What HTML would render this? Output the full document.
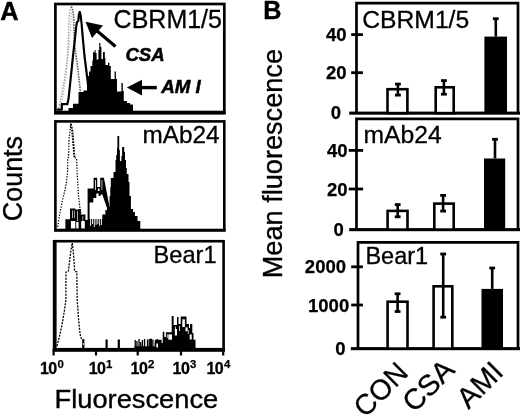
<!DOCTYPE html>
<html><head><meta charset="utf-8"><title>Figure</title>
<style>html,body{margin:0;padding:0;background:#fff}svg{display:block}</style></head>
<body><svg width="520" height="416" viewBox="0 0 520 416">
<rect width="520" height="416" fill="#fff"/>
<g font-family="'Liberation Sans', Arial, sans-serif" fill="#000">
<text x="0.3" y="19.6" font-size="25.4" font-weight="bold" stroke="#000" stroke-width="0.4">A</text>
<text transform="translate(21.7,221.2) rotate(-90)" font-size="26.9" stroke="#000" stroke-width="0.35">Counts</text>
<text x="54.6" y="407.6" font-size="26.2" textLength="163.6" lengthAdjust="spacingAndGlyphs" stroke="#000" stroke-width="0.35">Fluorescence</text>
<path d="M58.8,108.0L60.0,102.0L61.5,96.0L63.0,88.0L65.0,76.0L67.0,61.0L68.0,45.0L68.8,28.0L69.5,12.0L71.3,6.5" fill="none" stroke="#999" stroke-width="1.3" stroke-dasharray="1.5,1.3"/>
<path d="M71.3,6.5L72.5,9.0L73.5,15.0L74.0,30.0L74.6,45.0L76.0,56.0L77.0,62.0L78.5,75.0L80.0,88.0L81.0,100.0" fill="none" stroke="#666" stroke-width="1.7" stroke-dasharray="1.6,1.0"/>
<path d="M61.0,106.0L63.0,96.0L65.0,84.0L67.0,68.0L69.0,48.0L70.5,28.0L71.5,12.0" fill="none" stroke="#aaa" stroke-width="1.0" stroke-dasharray="1.2,1.6"/>
<path d="M57.0,109.6L61.8,109.6L61.8,104.2L67.3,104.2L68.5,99.0L70.0,85.0L72.0,66.0L73.0,56.0L75.0,38.0L76.3,26.0L77.0,22.0L78.3,21.0L79.0,14.0L79.8,12.0L80.6,15.0L81.6,24.0L83.0,40.0L84.5,56.0L86.0,68.0L87.5,80.0L88.2,86.0" fill="none" stroke="#000" stroke-width="2.2" stroke-linejoin="round"/>
<path d="M68.5,112V108.0H73.0V103.7H78.5V92.0H83.5V90.5H87.0V76.0H89.0V71.4H90.5V66.0H92.3V60.6H93.0V52.3H94.6V50.0H95.6V53.0H96.6V59.5H98.4V50.0H99.2V43.0H100.4V47.0H101.4V59.0H103.0V52.0H104.8V58.0H105.4V65.0H108.0V62.8H109.4V66.0H110.8V79.0H114.6V71.4H115.9V79.0H117.0V91.4H121.4V83.0H122.8V91.0H123.8V101.0H127.0V103.0H130.0V104.4H133.0V112Z" fill="#000"/>
<rect x="55.4" y="4.0" width="168.9" height="108.5" fill="none" stroke="#000" stroke-width="2.7"/>
<rect x="54.1" y="110.7" width="171.5" height="3.9"/>
<text x="113.6" y="27.6" font-size="25" stroke="#000" stroke-width="0.3">CBRM1/5</text>
<text x="125.4" y="60.9" font-size="18.6" font-weight="bold" font-style="italic" stroke="#000" stroke-width="0.5">CSA</text>
<text x="161.2" y="92.7" font-size="18.8" font-weight="bold" font-style="italic" stroke="#000" stroke-width="0.5">AM I</text>
<path d="M115.5,46.5L96,30" stroke="#000" stroke-width="3.2" fill="none"/>
<path d="M85.5,21.8L103,25.5L92,38Z"/>
<path d="M156.8,87.6H138" stroke="#000" stroke-width="3.4" fill="none"/>
<path d="M126.8,87.6L142,79.8V95.4Z"/>
<path d="M57.7,227.0L58.6,221.0L60.0,213.0L62.3,201.0L64.0,194.0L65.4,188.5L67.0,178.0L67.7,170.0L67.6,158.5L68.6,157.0L69.0,140.0L70.8,123.5" fill="none" stroke="#000" stroke-width="1.2" stroke-dasharray="1.4,1.4"/>
<path d="M74.5,157.5L76.6,158.5L77.0,170.0L77.8,184.0L78.5,196.0L80.0,208.5L81.0,214.0" fill="none" stroke="#000" stroke-width="1.2" stroke-dasharray="1.4,1.4"/>
<path d="M70.9,124.0L72.3,131.0L73.3,143.0L74.4,157.0" fill="none" stroke="#000" stroke-width="2.0" stroke-dasharray="1.8,1.1"/>
<path d="M79.6,209.0L79.6,229.0" fill="none" stroke="#000" stroke-width="1.6" stroke-dasharray="1.3,1.3"/>
<path d="M87.5,221.0L87.5,229.0" fill="none" stroke="#000" stroke-width="1.4" stroke-dasharray="1.3,1.3"/>
<path d="M65.4,230V219.2H70V208.5H75.4V209.5H80.8V214.6H85.4V220H88V230Z"/>
<rect x="70.9" y="221" width="4.4" height="7.6" fill="#fff"/>
<rect x="72.2" y="210.5" width="0.7" height="7.5" fill="#fff"/>
<rect x="74.3" y="210.5" width="0.6" height="7.5" fill="#fff"/>
<rect x="77.0" y="211" width="0.7" height="10.0" fill="#fff"/>
<rect x="81.2" y="221" width="3.6" height="7.6" fill="#fff"/>
<rect x="82.6" y="216" width="0.6" height="5.0" fill="#fff"/>
<rect x="76.2" y="222" width="2.4" height="6.6" fill="#fff"/>
<path d="M87.6,230V188.5H93.6V177.7H97.2V187H100.2V177.7H103.9L109.4,206V230Z"/>
<path d="M89.6,219V202.5H93.3V198H96.3V193.5H98.6V196H100.6V194.5H102.3L107.0,208V219Z" fill="#fff"/>
<rect x="95.0" y="180" width="0.8" height="10.0" fill="#fff"/>
<rect x="98.0" y="188.6" width="1.6" height="2.4" fill="#fff"/>
<rect x="101.6" y="180" width="0.7" height="10.0" fill="#fff"/>
<rect x="90.2" y="219" width="0.9" height="7.0" fill="#fff"/>
<rect x="92.0" y="219" width="0.9" height="5.0" fill="#fff"/>
<rect x="93.8" y="219" width="0.9" height="8.0" fill="#fff"/>
<rect x="95.6" y="219" width="0.9" height="6.0" fill="#fff"/>
<rect x="97.4" y="219" width="0.9" height="5.0" fill="#fff"/>
<rect x="99.2" y="219" width="0.9" height="7.0" fill="#fff"/>
<rect x="101.0" y="219" width="0.9" height="6.0" fill="#fff"/>
<path d="M102.3,230V214.6H105.4V210.0H108.0V207.0H109.6V196.0H110.3V187.0H110.8V178.0H113.5V172.0H115.5V160.0H116.2V155.0H117.0V148.0H117.4V136.0H119.2V150.0H119.9V161.0H121.4V156.0H122.1V147.0H124.2V152.0H125.0V160.0H126.0V168.0H126.8V174.0H128.5V182.0H129.5V196.0H130.9V209.0H133.0V212.0H134.9V216.0H137.5V221.0H140.3V230Z" fill="#000"/>
<rect x="55.4" y="121.4" width="168.9" height="108.79999999999998" fill="none" stroke="#000" stroke-width="2.6"/>
<rect x="54.1" y="228.8" width="171.5" height="2.8"/>
<text x="142.5" y="143.1" font-size="24.3" stroke="#000" stroke-width="0.3">mAb24</text>
<path d="M57.0,346.0L58.5,340.0L60.0,334.0L62.0,325.0L64.5,310.0L65.9,300.0L65.9,285.0L66.0,272.0L68.4,271.0L69.5,262.0L70.8,251.0L72.3,243.0" fill="none" stroke="#000" stroke-width="1.3" stroke-dasharray="2,1.2"/>
<path d="M72.3,243.0L73.2,251.0L74.1,262.0L74.6,271.0L76.8,272.0L77.0,285.0L77.2,300.0L78.5,318.0L79.6,330.0L80.6,337.0L82.0,339.5L84.0,340.0" fill="none" stroke="#000" stroke-width="1.3" stroke-dasharray="2,1.2"/>
<path d="M83.3,349V339.5M106.6,349V339.5M118.8,349V339.5" stroke="#000" stroke-width="2.2" fill="none"/>
<rect x="82.9" y="343" width="0.8" height="2.0" fill="#fff"/>
<rect x="134.6" y="340" width="1.3" height="9"/>
<rect x="136.3" y="341" width="1.3" height="8"/>
<rect x="138.4" y="339" width="1.3" height="10"/>
<rect x="140.1" y="342" width="1.3" height="7"/>
<rect x="141.8" y="340" width="1.3" height="9"/>
<rect x="143.9" y="339" width="1.3" height="10"/>
<rect x="146.9" y="339.5" width="1.3" height="9.5"/>
<rect x="148.6" y="339" width="1.3" height="10"/>
<rect x="150.5" y="341" width="1.3" height="8"/>
<rect x="152.2" y="339.5" width="1.3" height="9.5"/>
<rect x="154.8" y="342" width="1.3" height="7"/>
<rect x="156.7" y="339" width="1.3" height="10"/>
<rect x="134.6" y="346.3" width="23" height="3"/>
<path d="M150.0,349V338.7H152.0V347.5H154.8V339.7H161.6V343.0H162.7V331.8H164.3V337.0H165.9V332.3H171.7V316.0H173.6V325.0H177.0V317.0H178.5V324.0H180.7V316.5H186.5V323.9H189.0V328.0H190.0V323.9H192.3V333.0H193.5V339.7H195.5V349Z" fill="#000"/>
<rect x="156.3" y="343.5" width="1.7" height="4.0" fill="#fff"/>
<rect x="168.3" y="334.4" width="3.7" height="5.3" fill="#fff"/>
<rect x="166.8" y="334.2" width="0.8" height="3.8" fill="#fff"/>
<rect x="174.8" y="329" width="2.2" height="6.5" fill="#fff"/>
<rect x="175.2" y="326.5" width="0.8" height="2.5" fill="#fff"/>
<rect x="182.3" y="319.3" width="2.6" height="7.7" fill="#fff"/>
<rect x="185.5" y="327.3" width="2.1" height="4.0" fill="#fff"/>
<rect x="179.2" y="326" width="0.8" height="5.0" fill="#fff"/>
<rect x="189.7" y="334.4" width="2.0" height="5.1" fill="#fff"/>
<rect x="187.9" y="330" width="0.7" height="4.0" fill="#fff"/>
<rect x="55.2" y="241.2" width="168.39999999999998" height="108.0" fill="none" stroke="#000" stroke-width="2.6"/>
<rect x="52.8" y="348.1" width="172.2" height="3.7"/>
<rect x="52.8" y="240" width="3.4" height="110"/>
<text x="153.6" y="263.1" font-size="23.6" stroke="#000" stroke-width="0.3">Bear1</text>
<rect x="52.5" y="349" width="2.2" height="6.5"/>
<text x="40.0" y="374" font-size="16" font-weight="bold" stroke="#000" stroke-width="0.3" letter-spacing="-0.6">10</text><text x="57.4" y="368.4" font-size="11.4" font-weight="bold" stroke="#000" stroke-width="0.25">0</text>
<rect x="94.9" y="349" width="2.2" height="6.5"/>
<text x="88.7" y="374" font-size="16" font-weight="bold" stroke="#000" stroke-width="0.3" letter-spacing="-0.6">10</text><text x="106.1" y="368.4" font-size="11.4" font-weight="bold" stroke="#000" stroke-width="0.25">1</text>
<rect x="136.6" y="349" width="2.2" height="6.5"/>
<text x="130.6" y="374" font-size="16" font-weight="bold" stroke="#000" stroke-width="0.3" letter-spacing="-0.6">10</text><text x="148.0" y="368.4" font-size="11.4" font-weight="bold" stroke="#000" stroke-width="0.25">2</text>
<rect x="179.9" y="349" width="2.2" height="6.5"/>
<text x="172.6" y="374" font-size="16" font-weight="bold" stroke="#000" stroke-width="0.3" letter-spacing="-0.6">10</text><text x="190.0" y="368.4" font-size="11.4" font-weight="bold" stroke="#000" stroke-width="0.25">3</text>
<rect x="222.1" y="349" width="2.2" height="6.5"/>
<text x="206.5" y="374" font-size="16" font-weight="bold" stroke="#000" stroke-width="0.3" letter-spacing="-0.6">10</text><text x="223.9" y="368.4" font-size="11.4" font-weight="bold" stroke="#000" stroke-width="0.25">4</text>
<text x="263.2" y="18.9" font-size="25.2" font-weight="bold" stroke="#000" stroke-width="0.4">B</text>
<text transform="translate(281.5,278.3) rotate(-90)" font-size="27.15" stroke="#000" stroke-width="0.35">Mean fluorescence</text>
<path d="M356.5,113.1V3.1H518.0V113.1" fill="none" stroke="#000" stroke-width="2.7"/>
<rect x="349.2" y="111.6" width="170.8" height="3.1"/>
<rect x="351.2" y="33.2" width="11.699999999999989" height="2.8"/>
<text x="336.3" y="41.2" font-size="18.5" font-weight="bold" text-anchor="middle" stroke="#000" stroke-width="0.25">40</text>
<rect x="351.2" y="71.3" width="11.699999999999989" height="2.8"/>
<text x="336.3" y="79.3" font-size="18.5" font-weight="bold" text-anchor="middle" stroke="#000" stroke-width="0.25">20</text>
<text x="335.8" y="118.5" font-size="18.5" font-weight="bold" text-anchor="middle" stroke="#000" stroke-width="0.25">0</text>
<text x="362.2" y="27.7" font-size="24.7" stroke="#000" stroke-width="0.3">CBRM1/5</text>
<rect x="387.5" y="89.2" width="19.9" height="23.899999999999988" fill="#fff" stroke="#000" stroke-width="2.6"/>
<path d="M397.9,83.7V95.5" stroke="#000" stroke-width="2.6" fill="none"/>
<rect x="395.0" y="82.7" width="5.8" height="2.8"/>
<rect x="395.0" y="93.7" width="5.8" height="2.8"/>
<rect x="435.7" y="87.3" width="18.00000000000002" height="25.799999999999994" fill="#fff" stroke="#000" stroke-width="2.6"/>
<path d="M443.9,80.2V94.6" stroke="#000" stroke-width="2.6" fill="none"/>
<rect x="441.0" y="79.2" width="5.8" height="2.8"/>
<rect x="441.0" y="92.8" width="5.8" height="2.8"/>
<rect x="484.4" y="36.6" width="22.600000000000023" height="76.5"/>
<path d="M495.8,18.3V36.6" stroke="#000" stroke-width="2.6" fill="none"/>
<rect x="492.90000000000003" y="17.3" width="5.8" height="2.8"/>
<path d="M356.5,229.6V118.9H518.0V229.6" fill="none" stroke="#000" stroke-width="2.7"/>
<rect x="349.2" y="228.1" width="170.8" height="3.1"/>
<rect x="348.7" y="149.0" width="14.400000000000034" height="2.8"/>
<text x="337.2" y="157.0" font-size="18.5" font-weight="bold" text-anchor="middle" stroke="#000" stroke-width="0.25">40</text>
<rect x="348.7" y="187.6" width="14.400000000000034" height="2.8"/>
<text x="337.2" y="195.6" font-size="18.5" font-weight="bold" text-anchor="middle" stroke="#000" stroke-width="0.25">20</text>
<text x="338.6" y="236.29999999999998" font-size="18.5" font-weight="bold" text-anchor="middle" stroke="#000" stroke-width="0.25">0</text>
<text x="363.5" y="142.5" font-size="24.7" stroke="#000" stroke-width="0.3">mAb24</text>
<rect x="387.6" y="210.9" width="19.9" height="18.7" fill="#fff" stroke="#000" stroke-width="2.6"/>
<path d="M397.7,204.2V217.2" stroke="#000" stroke-width="2.6" fill="none"/>
<rect x="394.8" y="203.2" width="5.8" height="2.8"/>
<rect x="394.8" y="215.39999999999998" width="5.8" height="2.8"/>
<rect x="434.3" y="203.60000000000002" width="19.4" height="25.999999999999982" fill="#fff" stroke="#000" stroke-width="2.6"/>
<path d="M443.1,195V211.5" stroke="#000" stroke-width="2.6" fill="none"/>
<rect x="440.20000000000005" y="194" width="5.8" height="2.8"/>
<rect x="440.20000000000005" y="209.7" width="5.8" height="2.8"/>
<rect x="484" y="158.5" width="21.19999999999999" height="71.1"/>
<path d="M495,138.9V158.5" stroke="#000" stroke-width="2.6" fill="none"/>
<rect x="492.1" y="137.9" width="5.8" height="2.8"/>
<path d="M358.0,348.6V242.4H518.0V348.6" fill="none" stroke="#000" stroke-width="2.7"/>
<rect x="350.8" y="347.1" width="169.2" height="3.1"/>
<rect x="351.2" y="265.40000000000003" width="11.699999999999989" height="2.8"/>
<text x="346" y="273.40000000000003" font-size="18.5" font-weight="bold" text-anchor="end" stroke="#000" stroke-width="0.25">2000</text>
<rect x="351.2" y="303.6" width="11.699999999999989" height="2.8"/>
<text x="349.2" y="311.6" font-size="18.5" font-weight="bold" text-anchor="end" stroke="#000" stroke-width="0.25">1000</text>
<text x="345.5" y="355.40000000000003" font-size="18.5" font-weight="bold" text-anchor="end" stroke="#000" stroke-width="0.25">0</text>
<text x="365.4" y="264.0" font-size="23.5" stroke="#000" stroke-width="0.3">Bear1</text>
<rect x="387.6" y="301.7" width="19.9" height="46.90000000000005" fill="#fff" stroke="#000" stroke-width="2.6"/>
<path d="M397.6,293.4V311.9" stroke="#000" stroke-width="2.6" fill="none"/>
<rect x="394.70000000000005" y="292.4" width="5.8" height="2.8"/>
<rect x="394.70000000000005" y="310.09999999999997" width="5.8" height="2.8"/>
<rect x="433.6" y="286.3" width="18.70000000000001" height="62.300000000000026" fill="#fff" stroke="#000" stroke-width="2.6"/>
<path d="M443.2,253.6V317.6" stroke="#000" stroke-width="2.6" fill="none"/>
<rect x="440.3" y="252.6" width="5.8" height="2.8"/>
<rect x="440.3" y="315.8" width="5.8" height="2.8"/>
<rect x="481.5" y="288.9" width="21.5" height="59.700000000000045"/>
<path d="M492.2,267.6V288.9" stroke="#000" stroke-width="2.6" fill="none"/>
<rect x="489.3" y="266.6" width="5.8" height="2.8"/>
<text transform="translate(365.2,418.6) rotate(-45)" font-size="28.3" stroke="#000" stroke-width="0.3">CON</text>
<text transform="translate(414.2,413.5) rotate(-45)" font-size="28.9" stroke="#000" stroke-width="0.3">CSA</text>
<text transform="translate(468.6,409.9) rotate(-45)" font-size="28.9" stroke="#000" stroke-width="0.3">AMI</text>
</g></svg></body></html>
